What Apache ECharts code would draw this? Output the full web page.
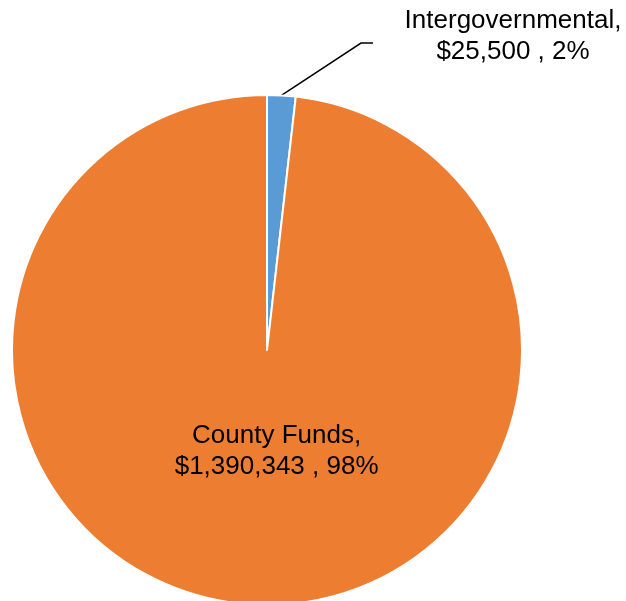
<!DOCTYPE html>
<html>
<head>
<meta charset="utf-8">
<script src="https://cdn.jsdelivr.net/npm/echarts@6/dist/echarts.min.js"></script>
<style>
  html, body { margin: 0; padding: 0; background: #ffffff; }
  #chart { width: 626px; height: 601px; }
</style>
</head>
<body>
<div id="chart"></div>
<script>
// Funding sources
const categories = ['Intergovernmental', 'County Funds'];
const amounts = [25500, 1390343];
const sliceColors = ['#5B9BD5', '#ED7D31'];

const total = amounts.reduce((a, b) => a + b, 0);
const fmtMoney = v => '$' + v.toLocaleString('en-US');
const fmtPct = v => Math.round(v / total * 100) + '%';

const chart = echarts.init(document.getElementById('chart'), null, { renderer: 'canvas' });

const labelFont = {
  fontFamily: '"Liberation Sans", Arial, sans-serif',
  fontSize: 26,
  lineHeight: 31,
  color: '#000000',
  align: 'center'
};

const data = categories.map((name, i) => {
  const item = {
    name: name,
    value: amounts[i],
    itemStyle: { color: sliceColors[i] }
  };
  if (i === 0) {
    item.label = { position: 'outside' };
    item.labelLine = { show: true, lineStyle: { color: '#000000', width: 1.5 } };
  } else {
    item.label = { position: 'inside', offset: [17, -29] };
    item.labelLine = { show: false };
  }
  return item;
});

chart.setOption({
  animation: false,
  backgroundColor: '#ffffff',
  series: [{
    type: 'pie',
    center: [267, 350],
    radius: 255,
    startAngle: 90,
    clockwise: true,
    avoidLabelOverlap: false,
    itemStyle: { borderColor: '#ffffff', borderWidth: 2 },
    label: Object.assign({
      show: true,
      formatter: p => p.name + ',\n' + fmtMoney(p.value) + ' , ' + fmtPct(p.value)
    }, labelFont),
    labelLayout: function (params) {
      if (params.dataIndex !== 0) return {};
      const p0 = params.labelLinePoints ? params.labelLinePoints[0] : null;
      const res = {
        x: 513,
        y: 36,
        align: 'center',
        verticalAlign: 'middle'
      };
      if (p0) {
        res.labelLinePoints = [p0, [361, 43], [373, 43]];
      }
      return res;
    },
    data: data
  }]
});
</script>
</body>
</html>
